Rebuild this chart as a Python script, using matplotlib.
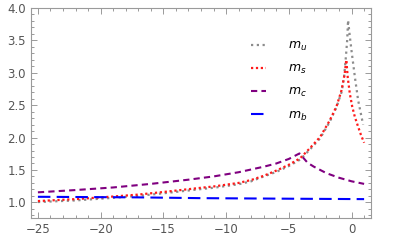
import matplotlib

matplotlib.use("Agg")
import matplotlib.pyplot as plt
from matplotlib.ticker import FixedLocator, FormatStrFormatter, MultipleLocator

# values
x_u = [-25, -22, -19, -17, -15, -12, -11, -9, -8, -7, -6, -5, -4.1, -3.3, -2.5, -1.75, -1.2,
       -0.8, -0.6, -0.45, -0.35, -0.28, -0.15, -0.01, 0.26, 0.52, 0.75, 0.92]
m_u = [1.005, 1.03, 1.07, 1.10, 1.14, 1.205, 1.225, 1.28, 1.325, 1.40, 1.47, 1.56, 1.66,
       1.82, 1.99, 2.24, 2.47, 2.70, 2.93, 3.25, 3.50, 3.81, 3.58, 3.35, 2.94, 2.58, 2.36, 2.20]

x_s = [-25, -22, -19, -17, -15, -12, -11, -9, -8, -7, -6, -5, -4.1, -3.3, -2.5, -1.75, -1.2,
       -0.8, -0.55, -0.42, -0.3, -0.14, 0.05, 0.26, 0.5, 0.75, 1.0]
m_s = [1.02, 1.05, 1.09, 1.12, 1.16, 1.225, 1.245, 1.30, 1.345, 1.41, 1.49, 1.58, 1.68,
       1.84, 2.01, 2.26, 2.48, 2.73, 2.98, 3.20, 2.92, 2.68, 2.48, 2.32, 2.18, 2.04, 1.92]

x_c = [-25, -22, -19, -16, -13, -11, -9, -7, -6, -5, -4.15, -3.5, -3, -2, -1, 0, 1]
m_c = [1.155, 1.19, 1.23, 1.285, 1.35, 1.40, 1.465, 1.55, 1.60, 1.67, 1.755, 1.61, 1.55,
       1.45, 1.38, 1.325, 1.285]

x_b = [-25, -17, -12, -4.7, 1]
m_b = [1.086, 1.077, 1.065, 1.056, 1.05]

labels = ["$m_u$", "$m_s$", "$m_c$", "$m_b$"]
xticks = [-25, -20, -15, -10, -5, 0]

frame = "#9a9a9a"
text_col = "#555555"

fig = plt.figure(figsize=(4.15, 2.48), dpi=100)
ax = fig.add_axes([0.0747, 0.12, 0.8193, 0.848])

lines = []
lines += ax.plot(x_u, m_u, color="#8c8c8c", lw=1.6, ls=(0, (1, 1.6)))
lines += ax.plot(x_s, m_s, color="#ff1a1a", lw=1.6, ls=(0, (1, 1.2)))
lines += ax.plot(x_c, m_c, color="#800080", lw=1.5, ls=(0, (3, 2)))
lines += ax.plot(x_b, m_b, color="#0000ff", lw=1.5, ls=(0, (6, 3)))

ax.set_xlim(-25.55, 1.55)
ax.set_ylim(0.755, 4.0)

ax.xaxis.set_major_locator(FixedLocator(xticks))
ax.xaxis.set_minor_locator(MultipleLocator(1))
ax.set_xticklabels([str(t).replace("-", "\u2212") for t in xticks])
ax.yaxis.set_major_locator(MultipleLocator(0.5))
ax.yaxis.set_minor_locator(MultipleLocator(0.1))
ax.yaxis.set_major_formatter(FormatStrFormatter("%.1f"))

ax.tick_params(which="both", direction="in", top=True, right=True, color=frame,
               labelsize=8.5, labelcolor=text_col, width=0.7)
ax.tick_params(which="major", length=4, pad=3.5)
ax.tick_params(which="minor", length=2)
for sp in ax.spines.values():
    sp.set_color(frame)
    sp.set_linewidth(0.8)

ax.legend(lines, labels, loc="upper left", bbox_to_anchor=(0.615, 0.905), frameon=False,
          handlelength=1.2, handletextpad=1.7, labelspacing=0.72, fontsize=9)

fig.savefig("out.png", dpi=100)
